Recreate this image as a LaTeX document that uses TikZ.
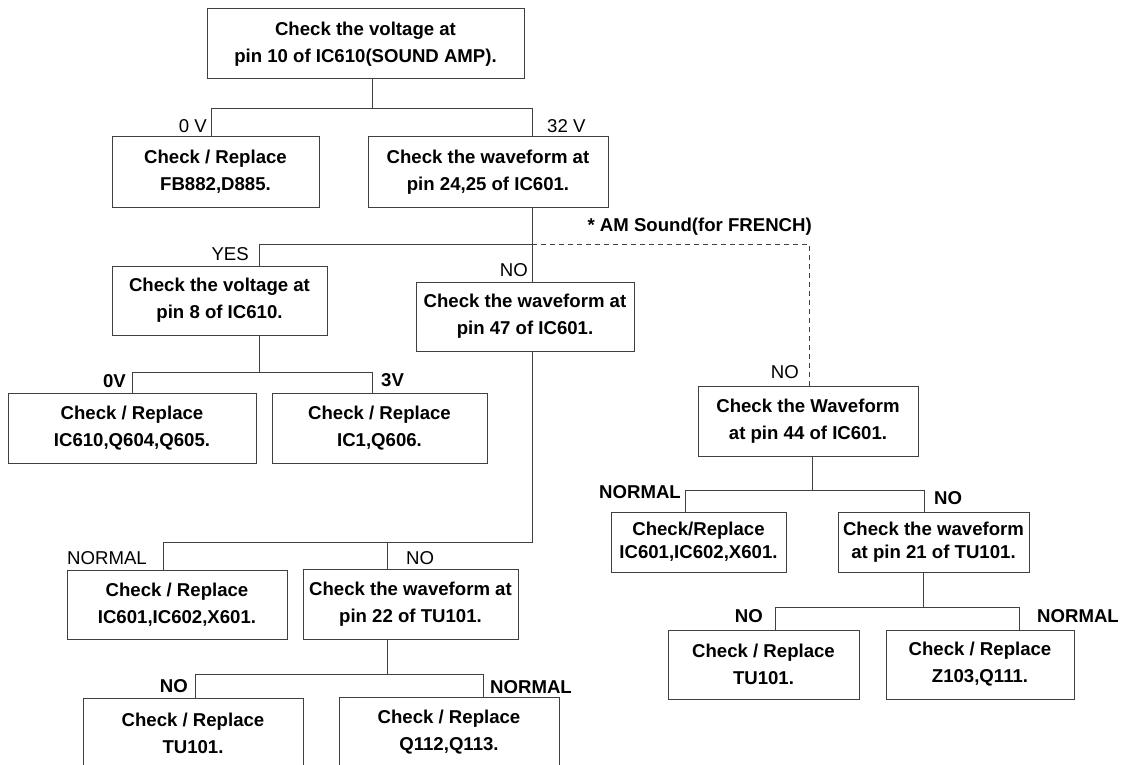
\documentclass[tikz,border=0pt]{standalone}
\usepackage{fontspec}
\setmainfont{Liberation Sans}
\tikzset{
  box/.style={draw=black!75,line width=1pt,inner sep=0pt,align=center,
    font=\fontsize{18.6}{27}\selectfont\bfseries},
  tightbox/.style={box,font=\fontsize{18.6}{23}\selectfont\bfseries},
  lbl/.style={inner sep=0pt,font=\fontsize{18.6}{22}\selectfont},
  blbl/.style={inner sep=0pt,font=\fontsize{18.6}{22}\selectfont\bfseries},
  wire/.style={draw=black!75,line width=1pt},
  amwire/.style={wire,dash pattern=on 5pt off 4pt},
}

\begin{document}
\begin{tikzpicture}[x=1pt,y=-1pt]
\useasboundingbox (0,0) rectangle (1124,765);
\clip (0,0) rectangle (1124,765);

\node[box,minimum width=317pt,minimum height=70pt] (volt10) at (365.5,44) {Check the voltage at\\pin 10 of IC610(SOUND AMP).};
\node[box,minimum width=207pt,minimum height=70pt] (fb882) at (215.5,172) {Check / Replace\\FB882,D885.};
\node[box,minimum width=240pt,minimum height=70pt] (wave24) at (488,172) {Check the waveform at\\pin 24,25 of IC601.};
\node[box,minimum width=215pt,minimum height=69pt] (volt8) at (219.5,300.5) {Check the voltage at\\pin 8 of IC610.};
\node[box,minimum width=218pt,minimum height=69pt] (wave47) at (525,316.5) {Check the waveform at\\pin 47 of IC601.};
\node[box,minimum width=248pt,minimum height=70pt] (ic610) at (132,428) {Check / Replace\\IC610,Q604,Q605.};
\node[box,minimum width=215pt,minimum height=70pt] (ic1) at (379.5,428) {Check / Replace\\IC1,Q606.};
\node[box,minimum width=220pt,minimum height=69pt] (ic601a) at (177,604.5) {Check / Replace\\IC601,IC602,X601.};
\node[box,minimum width=215pt,minimum height=70pt] (wave22) at (410.5,604) {Check the waveform at\\pin 22 of TU101.};
\node[box,minimum width=220pt,minimum height=70pt] (tu101a) at (193,733) {Check / Replace\\TU101.};
\node[box,minimum width=220pt,minimum height=70pt] (q112) at (449,732.5) {Check / Replace\\Q112,Q113.};
\node[box,minimum width=220pt,minimum height=70pt] (wave44) at (808,421) {Check the Waveform\\at pin 44 of IC601.};
\node[tightbox,minimum width=175pt,minimum height=60pt] (ic601b) at (698.5,542) {Check/Replace\\IC601,IC602,X601.};
\node[tightbox,minimum width=191pt,minimum height=60pt] (wave21) at (933.5,542) {Check the waveform\\at pin 21 of TU101.};
\node[box,minimum width=191pt,minimum height=69pt] (tu101b) at (763.5,664.5) {Check / Replace\\TU101.};
\node[box,minimum width=188pt,minimum height=69pt] (z103) at (980,664.5) {Check / Replace\\Z103,Q111.};

\coordinate (jA) at (372,109);
\coordinate (jA1) at (211,109);
\coordinate (jA2) at (532,109);
\draw[wire] (jA |- volt10.south) -- (jA);
\draw[wire] (jA1 |- fb882.north) -- (jA1) -- (jA2) -- (jA2 |- wave24.north);
\node[lbl,anchor=east] (l0v) at (207,126) {0 V};
\node[lbl,anchor=west] (l32v) at (547,126) {32 V};

\coordinate (jB) at (532,244);
\coordinate (jB1) at (259,244);
\coordinate (jB2) at (809,244);
\draw[wire] (jB |- wave24.south) -- (jB) -- (jB1) -- (jB1 |- volt8.north);
\draw[wire] (jB) -- (jB |- wave47.north);
\draw[amwire] (jB) -- (jB2) -- (jB2 |- wave44.north);
\node[lbl,anchor=east] (lyes) at (249,254) {YES};
\node[lbl,anchor=east] (lno47) at (528,270) {NO};
\node[blbl,anchor=east] (lam) at (812,227) {* AM Sound(for FRENCH)};
\node[lbl,anchor=east] (lno44) at (799,372) {NO};

\coordinate (jC) at (259,372);
\coordinate (jC1) at (132,372);
\coordinate (jC2) at (372,372);
\draw[wire] (jC |- volt8.south) -- (jC);
\draw[wire] (jC1 |- ic610.north) -- (jC1) -- (jC2) -- (jC2 |- ic1.north);
\node[blbl,anchor=east] (l0vb) at (126,381) {0V};
\node[blbl,anchor=west] (l3v) at (381,380) {3V};

\coordinate (jD) at (532,542);
\coordinate (jD1) at (163,542);
\coordinate (jD2) at (387,542);
\draw[wire] (jD |- wave47.south) -- (jD) -- (jD1) -- (jD1 |- ic601a.north);
\draw[wire] (jD2) -- (jD2 |- wave22.north);
\node[lbl,anchor=east] (lnorm22) at (147,558) {NORMAL};
\node[lbl,anchor=west] (lno22) at (406,558) {NO};

\coordinate (jE) at (387,674);
\coordinate (jE1) at (195,674);
\coordinate (jE2) at (483,674);
\draw[wire] (jE |- wave22.south) -- (jE);
\draw[wire] (jE1 |- tu101a.north) -- (jE1) -- (jE2) -- (jE2 |- q112.north);
\node[blbl,anchor=east] (lnotu) at (188,686) {NO};
\node[blbl,anchor=west] (lnormq) at (490,687) {NORMAL};

\coordinate (jG) at (812,490);
\coordinate (jG1) at (685,490);
\coordinate (jG2) at (924,490);
\draw[wire] (jG |- wave44.south) -- (jG);
\draw[wire] (jG1 |- ic601b.north) -- (jG1) -- (jG2) -- (jG2 |- wave21.north);
\node[blbl,anchor=east] (lnorm44) at (681,492) {NORMAL};
\node[blbl,anchor=west] (lno44b) at (934,498) {NO};

\coordinate (jH) at (923,607);
\coordinate (jH1) at (775,607);
\coordinate (jH2) at (1019,607);
\draw[wire] (jH |- wave21.south) -- (jH);
\draw[wire] (jH1 |- tu101b.north) -- (jH1) -- (jH2) -- (jH2 |- z103.north);
\node[blbl,anchor=east] (lnotub) at (763,616) {NO};
\node[blbl,anchor=west] (lnormz) at (1037,616) {NORMAL};
\end{tikzpicture}
\end{document}
